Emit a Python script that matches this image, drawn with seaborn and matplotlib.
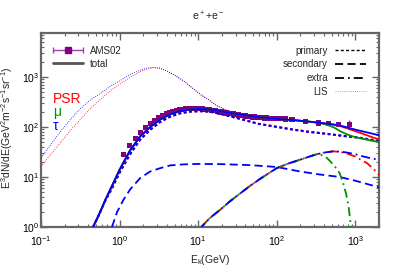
import numpy as np
import matplotlib
matplotlib.use("Agg")
import matplotlib.pyplot as plt
import seaborn as sns
from matplotlib.lines import Line2D
from matplotlib.legend_handler import HandlerErrorbar
from matplotlib.container import ErrorbarContainer
from matplotlib.ticker import LogLocator, NullFormatter, LogFormatterMathtext

# ---------------- data ----------------
ams_E = [1.11, 1.34, 1.59, 1.86, 2.15, 2.48, 2.82, 3.18, 3.54, 3.92, 4.33, 4.77, 5.24, 5.74,
         6.27, 6.82, 7.39, 8.0, 8.62, 9.28, 9.97, 10.7, 11.4, 12.2, 13.0, 13.8, 14.7, 15.6,
         16.5, 17.5, 18.5, 19.5, 20.5, 21.6, 22.8, 24.0, 25.3, 26.7, 28.1, 29.5, 31.0, 32.6,
         34.3, 36.0, 37.9, 39.9, 42.1, 44.6, 47.2, 49.8, 52.5, 55.4, 58.6, 62.1, 65.9, 69.9,
         74.4, 79.3, 84.8, 90.8, 97.3, 111, 130, 156, 231, 340, 456, 611, 836]
ams_F = [28, 42, 58, 77, 96, 116, 136, 153, 169, 183, 196, 206, 214, 221,
         226, 230, 233, 234, 234, 233, 231, 229, 227, 225, 222, 219, 216, 212,
         209, 205, 202, 199, 196, 193, 190, 187, 185, 182, 180, 177, 175, 173,
         171, 169, 167, 165, 163, 161, 160, 158, 157, 156, 156, 154, 152, 151,
         150, 149, 148, 147, 146, 145, 143, 141, 130, 119, 115, 112, 112]
ams_err = [1, 1, 1, 1, 1, 1, 1, 1, 1, 1, 1, 1, 1, 1,
           1, 1, 1, 1, 1, 1, 1, 1, 1, 1, 1, 1, 1, 1,
           1, 1, 1, 1, 1, 1, 1, 1, 1, 1, 1, 1, 1, 1,
           1, 1, 1, 1, 1, 1, 1, 1, 1, 1, 1, 1, 1, 1,
           1, 1, 1, 1, 1.5, 2, 2, 3, 4, 5, 6, 8, 25]

prim_E = [0.46, 0.55, 0.66, 0.8, 1.0, 1.34, 1.83, 2.46, 3.3, 4.4, 5.9, 7.9, 10.6, 14.3,
          22, 35, 58.6, 100, 156, 250, 420, 700, 1100, 2000]
prim_F = [1.0, 1.8, 3.4, 5.9, 12.2, 27.5, 56, 88, 126, 160, 187, 202, 206, 201,
          173, 143, 115, 100, 89, 80, 73, 66, 61, 52]

tot_E = [0.46, 0.55, 0.66, 0.8, 1.0, 1.34, 1.83, 2.46, 3.3, 4.4, 5.9, 7.9, 10.6, 14.3,
         23, 30, 40, 60, 100, 160, 250, 330, 420, 530, 660, 800, 1000, 1300, 1600, 2000]
tot_tau = [1.0, 1.8, 3.5, 6.6, 13.9, 32.6, 65, 100, 141, 178, 207, 223, 228, 223,
           195, 183, 171, 157, 144, 137, 128, 122, 117, 112, 105, 97, 88, 80, 74, 68]
tot_psr = [1.0, 1.8, 3.5, 6.6, 13.9, 32.6, 65, 100, 141, 178, 207, 223, 228, 223,
           195, 183, 171, 157, 144, 137, 128, 122, 116, 110, 102, 93, 82, 71, 63, 56]
tot_mu = [1.0, 1.8, 3.5, 6.6, 13.9, 32.6, 65, 100, 141, 178, 207, 223, 228, 223,
          195, 183, 171, 157, 144, 137, 128, 121, 112, 98, 80, 70, 62, 57, 53, 50]

sec_E = [0.8, 0.93, 1.12, 1.37, 1.83, 2.46, 3.3, 4.4, 6.5, 10, 20, 46, 100, 195, 350, 630, 1000, 2000]
sec_F = [1.0, 2.0, 3.5, 5.7, 9.5, 12.9, 15.0, 17.0, 17.8, 18.2, 18.0, 17.2, 15.8, 12.9, 11.2, 10.0, 8.4, 6.2]

ext_tau_E = [11, 14, 19, 25, 34.6, 45, 61, 80, 100, 140, 180, 250, 325, 420, 525, 650, 800, 1000, 1150, 1500, 2000]
ext_tau_F = [1.0, 1.5, 2.2, 3.2, 4.75, 6.5, 9.1, 12, 15, 18.5, 21, 25, 28.5, 31, 32.5, 32, 30.5, 28.5, 26.6, 24, 22]
ext_psr_E = [11, 14, 19, 25, 34.6, 45, 61, 80, 100, 140, 180, 250, 325, 420, 525, 650, 800, 1000, 1200, 1400, 1700, 2000]
ext_psr_F = [1.0, 1.5, 2.2, 3.2, 4.75, 6.5, 9.1, 12, 15, 18.5, 21, 25, 28.5, 31, 32.5, 31.5, 29, 25.5, 21.5, 19, 14.5, 11]
ext_mu_E = [11, 14, 19, 25, 34.6, 45, 61, 80, 100, 140, 180, 250, 325, 380, 435, 525, 630, 700, 760, 820, 880]
ext_mu_F = [1.0, 1.5, 2.2, 3.2, 4.75, 6.5, 9.1, 12, 15, 18.5, 21, 25, 28.5, 27, 24, 17.6, 12, 7.5, 4.7, 2.6, 1.0]

lis_E = [0.1, 0.13, 0.176, 0.236, 0.316, 0.42, 0.57, 0.8, 1.0, 1.37, 1.8, 2.2, 2.6, 3.2,
         4.0, 5.0, 6.5, 8.0, 10.6, 13.4, 17, 22, 30, 40]
lis_tau = [24, 42, 80, 140, 230, 340, 465, 680, 830, 1120, 1350, 1480, 1540, 1500,
           1310, 1080, 830, 640, 447, 354, 268, 222, 185, 171]
lis_psr = [16, 27, 48, 85, 140, 230, 354, 560, 710, 980, 1250, 1410, 1510, 1490,
           1310, 1080, 830, 640, 447, 354, 268, 222, 185, 171]

model_names = ["PSR", "\u03bc", "\u03c4"]
model_colors = ["#ff0000", "#009000", "#0000ff"]
legend_styles = ["primary", "secondary", "extra", "LIS"]

# ---------------- style ----------------
sns.set_style("ticks")
plt.rcParams["font.family"] = ["Liberation Sans", "DejaVu Sans"]
plt.rcParams["mathtext.default"] = "regular"

fig = plt.figure(figsize=(3.99, 2.79), dpi=100)
ax = fig.add_axes([41 / 399, 1 - 227 / 279, 338 / 399, 194 / 279])
ax.set_xscale("log")
ax.set_yscale("log")

RED, GREEN, BLUE = model_colors
ls_prim = (0, (1.4, 1.2))
ls_sec = (0, (4.5, 2.4))
ext_pattern = (5, 2.2, 1, 2.2)
ls_lis = (0, (1, 1.6))


def curve(E, F, color, ls, lw, z):
    sns.lineplot(x=E, y=F, ax=ax, color=color, linestyle=ls, linewidth=lw,
                 errorbar=None, sort=False, zorder=z, legend=False)


# data
ax.errorbar(ams_E, ams_F, yerr=ams_err, fmt="none", ecolor="#9933aa", elinewidth=1, zorder=2)
sns.scatterplot(x=ams_E, y=ams_F, ax=ax, marker="s", s=14, color="#800080",
                edgecolor="none", zorder=2.5, legend=False)

# LIS
curve(lis_E, lis_psr, RED, ls_lis, 0.6, 3)
curve(lis_E, lis_tau, BLUE, ls_lis, 0.6, 3)
# secondary
curve(sec_E, sec_F, BLUE, ls_sec, 1.3, 3)
# extra
curve(ext_psr_E, ext_psr_F, RED, (0, ext_pattern), 1.3, 3)
curve(ext_mu_E, ext_mu_F, GREEN, (1.2, ext_pattern), 1.3, 3)
curve(ext_tau_E, ext_tau_F, BLUE, (2.4, ext_pattern), 1.3, 3)
# primary
curve(prim_E, prim_F, RED, ls_prim, 1.5, 3)
curve(prim_E, prim_F, BLUE, ls_prim, 1.5, 3)
# totals
curve(tot_E, tot_psr, RED, "-", 1.3, 4)
curve(tot_E, tot_mu, GREEN, "-", 1.3, 4)
curve(tot_E, tot_tau, BLUE, "-", 1.3, 4)

ax.set_xlim(0.1, 2000)
ax.set_ylim(1, 7500)

# ticks
for axis in (ax.xaxis, ax.yaxis):
    axis.set_major_locator(LogLocator(base=10, numticks=12))
    axis.set_minor_locator(LogLocator(base=10, subs=np.arange(2, 10), numticks=40))
    axis.set_minor_formatter(NullFormatter())
    axis.set_major_formatter(LogFormatterMathtext())
ax.tick_params(which="both", direction="in", top=True, right=True, color="#666666",
               labelsize=7.5, labelcolor="black")
ax.tick_params(which="major", length=5, width=1)
ax.tick_params(which="minor", length=2.5, width=0.8)
ax.tick_params(axis="y", pad=1.5)
ax.tick_params(axis="x", pad=5)
for sp in ax.spines.values():
    sp.set_color("#666666")
    sp.set_linewidth(1.6)
    sp.set_visible(True)

# labels
ax.set_xlabel(r"E$_k$(GeV)", fontsize=7.5)
ax.xaxis.set_label_coords(0.5, -0.135)
ax.set_ylabel(r"E$^3$dN/dE(GeV$^2$m$^{-2}$s$^{-1}$sr$^{-1}$)", fontsize=7.5)
ax.yaxis.set_label_coords(-0.077, 0.51)
fig.text(208 / 399, 1 - 21 / 279, r"e$^+$+e$^-$", ha="center", va="baseline", fontsize=7.5)

for name, col, yb in zip(model_names, model_colors, [103, 116, 130]):
    fig.text(53 / 399, 1 - yb / 279, name, color=col, fontsize=10, va="baseline", ha="left")

# legends
h_ams = ax.errorbar([np.nan], [np.nan], xerr=[[1], [1]], fmt="s", color="#800080",
                    ecolor="#a040b0", markersize=4.5, capsize=2, elinewidth=1)
h_tot = Line2D([], [], color="#555555", lw=2)
leg1 = ax.legend([h_ams, h_tot], ["AMS02", "total"], loc="upper left",
                 bbox_to_anchor=(0.0355, 0.935), frameon=False, fontsize=7,
                 handlelength=3.1, handletextpad=0.7, labelspacing=0.3,
                 borderpad=0, borderaxespad=0,
                 handler_map={ErrorbarContainer: HandlerErrorbar(xerr_size=1.5)})
ax.add_artist(leg1)
h_styles = [Line2D([], [], color="black", lw=1, linestyle=(0, (2.2, 1.6))),
            Line2D([], [], color="black", lw=1.3, linestyle=(0, (4.5, 2.4))),
            Line2D([], [], color="black", lw=1.3, linestyle=(0, ext_pattern)),
            Line2D([], [], color="#888888", lw=0.6, linestyle=ls_lis)]
ax.legend(h_styles, legend_styles, loc="upper right", bbox_to_anchor=(0.9615, 0.935),
          frameon=False, fontsize=7, handlelength=3.2, handletextpad=0.7,
          labelspacing=0.38, borderpad=0, borderaxespad=0, markerfirst=False)

fig.savefig("out.png", dpi=100)
